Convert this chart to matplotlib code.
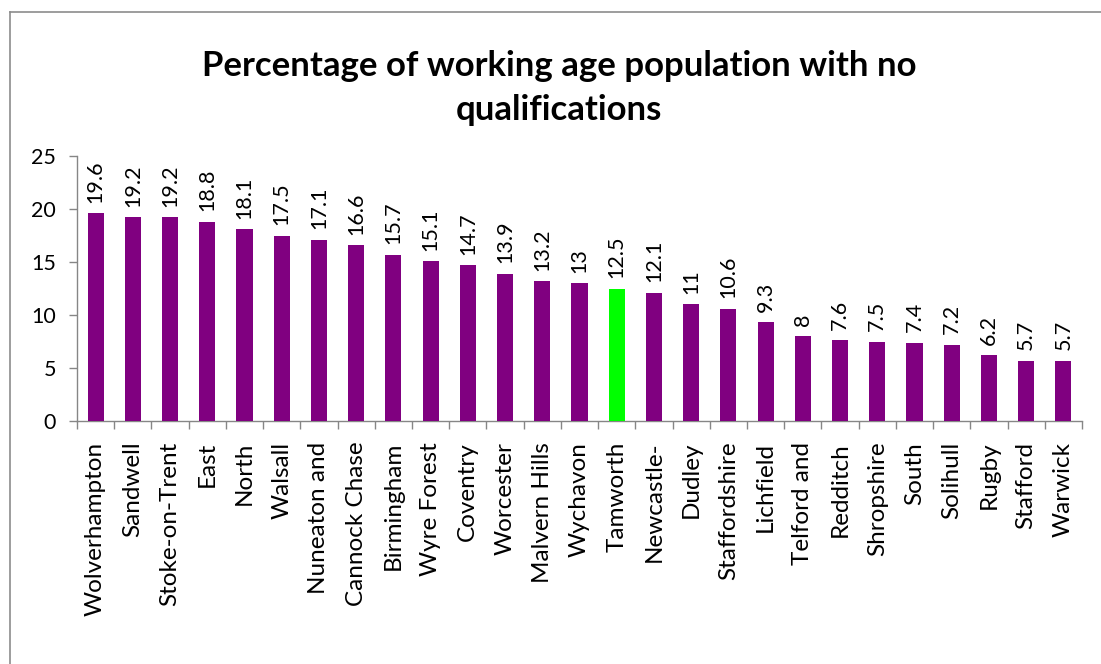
import matplotlib
matplotlib.use("Agg")
import matplotlib.pyplot as plt
from matplotlib.lines import Line2D
import numpy as np

categories = ["Wolverhampton", "Sandwell", "Stoke-on-Trent", "East", "North", "Walsall",
              "Nuneaton and", "Cannock Chase", "Birmingham", "Wyre Forest", "Coventry",
              "Worcester", "Malvern Hills", "Wychavon", "Tamworth", "Newcastle-", "Dudley",
              "Staffordshire", "Lichfield", "Telford and", "Redditch", "Shropshire", "South",
              "Solihull", "Rugby", "Stafford", "Warwick"]
values = [19.6, 19.2, 19.2, 18.8, 18.1, 17.5, 17.1, 16.6, 15.7, 15.1, 14.7, 13.9, 13.2, 13,
          12.5, 12.1, 11, 10.6, 9.3, 8, 7.6, 7.5, 7.4, 7.2, 6.2, 5.7, 5.7]
value_labels = ["19.6", "19.2", "19.2", "18.8", "18.1", "17.5", "17.1", "16.6", "15.7", "15.1",
                "14.7", "13.9", "13.2", "13", "12.5", "12.1", "11", "10.6", "9.3", "8", "7.6",
                "7.5", "7.4", "7.2", "6.2", "5.7", "5.7"]
highlight = "Tamworth"
y_ticks = [0, 5, 10, 15, 20, 25]
title = "Percentage of working age population with no\nqualifications"

plt.rcParams['font.family'] = ['Lato', 'DejaVu Sans']

W, H = 1101, 664
fig = plt.figure(figsize=(W / 100, H / 100), dpi=100)
ax = fig.add_axes([77 / W, 1 - 421 / H, (1082 - 77) / W, (421 - 156) / H])

x = np.arange(len(categories))
colors = ["#00FF00" if c == highlight else "#800080" for c in categories]
ax.bar(x, values, width=0.43, color=colors, zorder=3)

for xi, v, lab in zip(x, values, value_labels):
    ax.annotate(lab, (xi, v), xytext=(0, 7.5), textcoords="offset points",
                rotation=90, ha="center", va="bottom", fontsize=15.5, color="black")

ax.set_xlim(-0.5, len(categories) - 0.5)
ax.set_ylim(0, 25)
ax.set_yticks(y_ticks)
ax.set_yticklabels([str(t) for t in y_ticks], fontsize=15.5)
ax.set_xticks(x)
ax.set_xticklabels(categories, rotation=90, fontsize=17.5, va="top", ha="center")
ax.set_xticks(np.arange(-0.5, len(categories), 1), minor=True)
ax.tick_params(axis="x", which="major", length=0, pad=15)
ax.tick_params(axis="x", which="minor", length=5.5, color="#868686", width=1)
ax.tick_params(axis="y", length=5.5, color="#868686", width=1, pad=9.5)

for s in ["top", "right"]:
    ax.spines[s].set_visible(False)
for s in ["left", "bottom"]:
    ax.spines[s].set_color("#868686")
    ax.spines[s].set_linewidth(1)

fig.text(559 / W, 1 - 88 / H, title, ha="center", va="center", fontsize=25,
         fontweight="bold", linespacing=1.5)

# outer chart border (left and top edges visible)
fig.add_artist(Line2D([9.5 / W, 9.5 / W], [0, 1 - 12 / H], transform=fig.transFigure,
                      color="#8c8c8c", lw=1.2))
fig.add_artist(Line2D([9.5 / W, 1], [1 - 12 / H, 1 - 12 / H], transform=fig.transFigure,
                      color="#8c8c8c", lw=1.2))

fig.savefig("out.png", dpi=100)
